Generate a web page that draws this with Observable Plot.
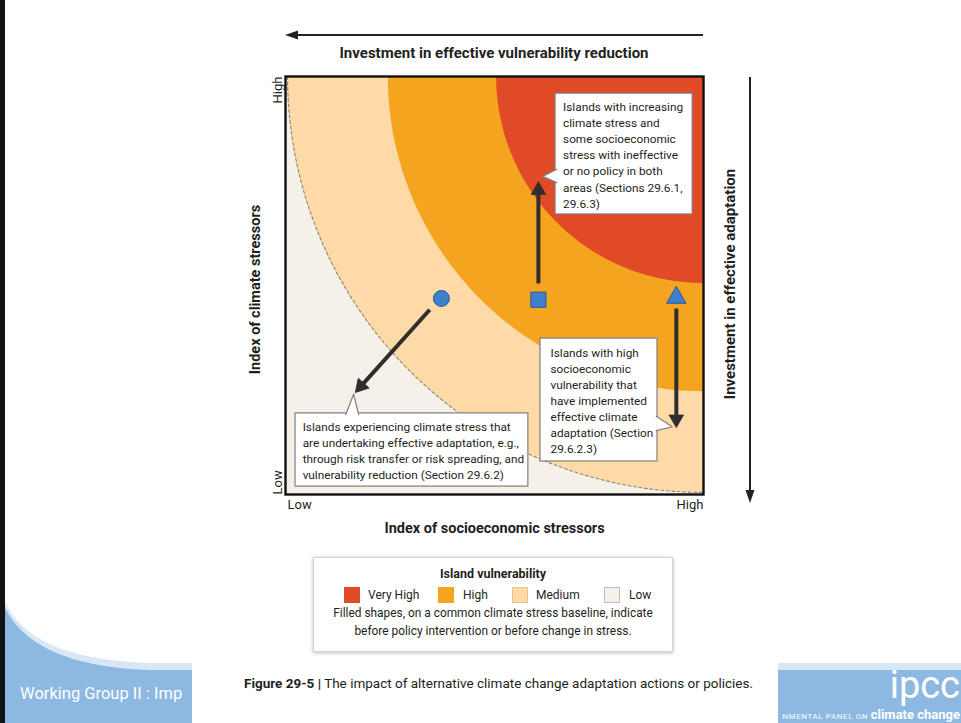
<!DOCTYPE html>
<html><head><meta charset="utf-8">
<script src="https://cdn.jsdelivr.net/npm/d3@7"></script>
<script src="https://cdn.jsdelivr.net/npm/@observablehq/plot@0.6"></script>
<style>
body{margin:0;background:#fff;}
#page{position:relative;width:961px;height:723px;overflow:hidden;background:#fff;font-family:Roboto,"Liberation Sans",sans-serif;color:#231f20;}
.abs{position:absolute;white-space:nowrap;}
#chart{position:absolute;left:235px;top:70px;}
#legend{position:absolute;left:313px;top:557px;width:360px;height:95px;background:#fff;border:1px solid #d4d4d4;box-shadow:0 1px 4px rgba(0,0,0,0.25);box-sizing:border-box;}
.sw{position:absolute;width:16px;height:16px;top:29px;box-sizing:border-box;}
.lab{position:absolute;top:28px;font-size:12px;line-height:18px;}
</style></head><body>
<div id="page">
  <svg class="abs" style="left:0;top:0" width="961" height="723" id="deco"></svg>
  <div class="abs" id="toptitle" style="left:0;width:988px;top:44px;text-align:center;font-weight:bold;font-size:15px;line-height:18px;"></div>
  <div class="abs" id="righttitle" style="left:730px;top:284px;transform:translate(-50%,-50%) rotate(-90deg);font-weight:bold;font-size:15px;"></div>
  <div id="chart"></div>
  <div id="legend"></div>
  <div class="abs" style="left:192px;top:660px;width:586px;height:63px;background:#fff;"></div>
  <div class="abs" id="caption" style="left:244px;top:674px;font-size:13.5px;line-height:18px;"></div>
</div>
<script>
// ---------- data ----------
const FONT = 'Roboto,"Liberation Sans",sans-serif';
const topTitle = "Investment in effective vulnerability reduction";
const rightTitle = "Investment in effective adaptation";
const xTitle = "Index of socioeconomic stressors";
const yTitle = "Index of climate stressors";
const xTickLabels = ["Low", "High"];
const yTickLabels = ["Low", "High"];

// vulnerability zones: concentric quarter circles around the High/High corner
const zoneNames  = ["Low", "Medium", "High", "Very High"];
const zoneColors = ["#f5f0e8", "#fddaa6", "#f5a41f", "#e14a27"];
const zoneRadii  = [null, 0.995, 0.754, 0.495];   // outer radius of each zone (share of axis)

// islands (filled shapes, common climate stress baseline)
const islandShapes = ["circle", "square", "triangle"];
const islandX = [0.373, 0.605, 0.935];
const islandY = [0.469, 0.466, 0.471];
const islandR = [8, 8.5, 7.2];

// change arrows
const arrowX1 = [0.345, 0.605, 0.935];
const arrowY1 = [0.442, 0.505, 0.445];
const arrowX2 = [0.167, 0.605, 0.935];
const arrowY2 = [0.244, 0.748, 0.160];

// callouts
const calloutText = [
  "Islands with increasing\nclimate stress and\nsome socioeconomic\nstress with ineffective\nor no policy in both\nareas (Sections 29.6.1,\n29.6.3)",
  "Islands with high\nsocioeconomic\nvulnerability that\nhave implemented\neffective climate\nadaptation (Section\n29.6.2.3)",
  "Islands experiencing climate stress that\nare undertaking effective adaptation, e.g.,\nthrough risk transfer or risk spreading, and\nvulnerability reduction (Section 29.6.2)"
];
const boxX1 = [0.646, 0.610, 0.024];
const boxX2 = [0.974, 0.890, 0.581];
const boxY1 = [0.670, 0.079, 0.019];
const boxY2 = [0.959, 0.373, 0.194];
const textX = [0.664, 0.634, 0.041];
const textY = [0.944, 0.357, 0.180];
const pointerX = [[0.649, 0.615, 0.649], [0.887, 0.925, 0.887], [0.144, 0.163, 0.175]];
const pointerY = [[0.778, 0.761, 0.746], [0.187, 0.162, 0.153], [0.191, 0.240, 0.191]];

// legend
const legendTitle = "Island vulnerability";
const legendNote = ["Filled shapes, on a common climate stress baseline, indicate", "before policy intervention or before change in stress."];
const captionBold = "Figure 29-5 |";
const captionText = " The impact of alternative climate change adaptation actions or policies.";
const footerLeft = "Working Group II : Imp";
const logoText = "ipcc";
const logoTagSmall = "NMENTAL PANEL ON ";
const logoTagBig = "climate change";

// ---------- build ----------
const W = 480, H = 470, ML = 50, MR = 12, MT = 6, MB = 46;
const iw = W - ML - MR, ih = H - MT - MB;

const zonePts = [];
zoneNames.forEach((z, i) => {
  const r = zoneRadii[i];
  if (r == null) return;
  for (let deg = 0; deg <= 90; deg += 1) {
    const a = deg * Math.PI / 180;
    zonePts.push({zone: z, x: 1 - r * Math.cos(a), y: 1 - r * Math.sin(a), y2: 1});
  }
});
const dashPts = zonePts.filter(d => d.zone === "Medium");

// arrows: shaft (link) + filled triangular head (rotated triangle symbol)
const headR = 5.4;
const headH = Math.sqrt(Math.PI * headR * headR / (3 * Math.sqrt(3)));
const arrows = arrowX1.map((x1, i) => {
  const a = {x1, y1: arrowY1[i], x2: arrowX2[i], y2: arrowY2[i]};
  const px = (a.x2 - a.x1) * iw, py = -(a.y2 - a.y1) * ih;
  const L = Math.hypot(px, py), ux = px / L, uy = py / L;
  const back = 3 * headH - 1;
  return {...a,
    sx2: a.x2 - ux * back / iw, sy2: a.y2 + uy * back / ih,
    rot: Math.atan2(ux, -uy) * 180 / Math.PI,
    dx: -ux * 2 * headH, dy: -uy * 2 * headH};
});

const callouts = calloutText.map((t, i) => ({text: t, x1: boxX1[i], x2: boxX2[i], y1: boxY1[i], y2: boxY2[i], tx: textX[i], ty: textY[i]}));
const pointerPts = pointerX.flatMap((xs, i) => xs.map((x, j) => ({id: i, x, y: pointerY[i][j]})));

const ink = "#231f20";
const arrowInk = "#2e2e2e";
const plot = Plot.plot({
  width: W, height: H,
  marginLeft: ML, marginRight: MR, marginTop: MT, marginBottom: MB,
  x: {domain: [0, 1], axis: null},
  y: {domain: [0, 1], axis: null},
  color: {domain: zoneNames, range: zoneColors},
  style: {fontFamily: FONT, fontSize: "13px", color: ink, background: "transparent", overflow: "visible"},
  marks: [
    Plot.frame({fill: zoneColors[0]}),
    Plot.area(zonePts, {x1: "x", y1: "y", y2: "y2", z: "zone", fill: "zone", clip: true}),
    Plot.line(dashPts, {x: "x", y: "y", stroke: "#8c8478", strokeWidth: 1.1, strokeDasharray: "3,2.5", clip: true}),
    Plot.link(arrows, {x1: "x1", y1: "y1", x2: "sx2", y2: "sy2", stroke: arrowInk, strokeWidth: 4}),
    ...arrows.map(g => Plot.dot([g], {x: "x2", y: "y2", r: headR, symbol: "triangle", rotate: g.rot, dx: g.dx, dy: g.dy, fill: arrowInk, stroke: arrowInk, strokeWidth: 0.8})),
    ...islandShapes.map((s, i) => Plot.dot([i], {x: () => islandX[i], y: () => islandY[i], r: islandR[i], symbol: s, fill: "#3f80cd", stroke: "#25589a", strokeWidth: 1})),
    Plot.rect(callouts, {x1: "x1", x2: "x2", y1: "y1", y2: "y2", fill: "white", stroke: "#7f7f7f", strokeWidth: 1.2}),
    Plot.line(pointerPts, {x: "x", y: "y", z: "id", fill: "white", stroke: "#7f7f7f", strokeWidth: 1.2}),
    Plot.text(callouts, {x: "tx", y: "ty", text: "text", textAnchor: "start", lineAnchor: "top", lineHeight: 1.36, fontSize: 11.8, fill: ink}),
    Plot.frame({stroke: "#111", strokeWidth: 2.4}),
    Plot.axisX([0], {tickFormat: () => xTickLabels[0], tickSize: 0, tickPadding: 5, textAnchor: "start", dx: 2, label: null, fill: ink}),
    Plot.axisX([1], {tickFormat: () => xTickLabels[1], tickSize: 0, tickPadding: 5, textAnchor: "end", label: null, fill: ink}),
    Plot.axisY([0], {tickFormat: () => yTickLabels[0], tickSize: 0, tickPadding: 4, tickRotate: -90, textAnchor: "start", label: null, fill: ink}),
    Plot.axisY([1], {tickFormat: () => yTickLabels[1], tickSize: 0, tickPadding: 4, tickRotate: -90, textAnchor: "end", label: null, fill: ink}),
    Plot.text([xTitle], {frameAnchor: "bottom", dy: 34, text: d => d, textAnchor: "middle", lineAnchor: "middle", fontWeight: "bold", fontSize: 14.5, fill: ink}),
    Plot.text([yTitle], {frameAnchor: "left", dx: -30, dy: 4, rotate: -90, text: d => d, textAnchor: "middle", lineAnchor: "middle", fontWeight: "bold", fontSize: 14.5, fill: ink})
  ]
});
document.getElementById("chart").appendChild(plot);

document.getElementById("toptitle").textContent = topTitle;
document.getElementById("righttitle").textContent = rightTitle;

// legend
const lg = document.getElementById("legend");
const order = zoneNames.slice().reverse();
const swX = [30, 124, 198, 290];
const labX = [54, 149, 222, 315];
let html = `<div class="abs" style="left:0;width:358px;top:7px;text-align:center;font-weight:bold;font-size:12.5px;line-height:18px;">${legendTitle}</div>`;
order.forEach((z, i) => {
  const c = zoneColors[zoneNames.indexOf(z)];
  const border = z === "Low" ? "border:1px solid #bdbdbd;" : (z === "Medium" ? "border:1px solid #e8c48f;" : "");
  html += `<div class="sw" style="left:${swX[i]}px;background:${c};${border}"></div>`;
  html += `<div class="lab abs" style="left:${labX[i]}px;">${z}</div>`;
});
html += `<div class="abs" style="left:0;width:358px;top:46px;text-align:center;font-size:11.9px;line-height:18px;">${legendNote.join("<br>")}</div>`;
lg.innerHTML = html;

document.getElementById("caption").innerHTML = `<b>${captionBold}</b>${captionText}`;

// slide decoration + top / right arrows
const svg = d3.select("#deco");
svg.append("path").attr("d", "M0,586 C10,632 55,660 150,663 L961,663 L961,723 L0,723 Z").attr("fill", "#d8e7f5");
svg.append("path").attr("d", "M0,594 C12,638 58,667 150,670 L961,670 L961,723 L0,723 Z").attr("fill", "#8db8e2");
svg.append("rect").attr("x", 0).attr("y", 0).attr("width", 5).attr("height", 723).attr("fill", "#111");
svg.append("text").attr("x", 20).attr("y", 699).attr("fill", "#fff").attr("font-size", 16.5).attr("font-family", FONT).text(footerLeft);
svg.append("text").attr("x", 960).attr("y", 698).attr("fill", "#fff").attr("font-size", 38).attr("text-anchor", "end").attr("font-family", FONT).text(logoText);
const ft = svg.append("text").attr("x", 960).attr("y", 719).attr("fill", "#fff").attr("text-anchor", "end").attr("font-family", FONT);
ft.append("tspan").attr("font-size", 8).attr("letter-spacing", 0.6).text(logoTagSmall);
ft.append("tspan").attr("font-size", 13).attr("font-weight", "bold").text(logoTagBig);
// top arrow
svg.append("line").attr("x1", 703).attr("x2", 295).attr("y1", 35).attr("y2", 35).attr("stroke", "#222").attr("stroke-width", 2);
svg.append("path").attr("d", "M285,35 L298,30.5 L298,39.5 Z").attr("fill", "#222");
// right arrow
svg.append("line").attr("x1", 750).attr("x2", 750).attr("y1", 77).attr("y2", 493).attr("stroke", "#222").attr("stroke-width", 2);
svg.append("path").attr("d", "M750,503 L745.5,490 L754.5,490 Z").attr("fill", "#222");
</script>
</body></html>
